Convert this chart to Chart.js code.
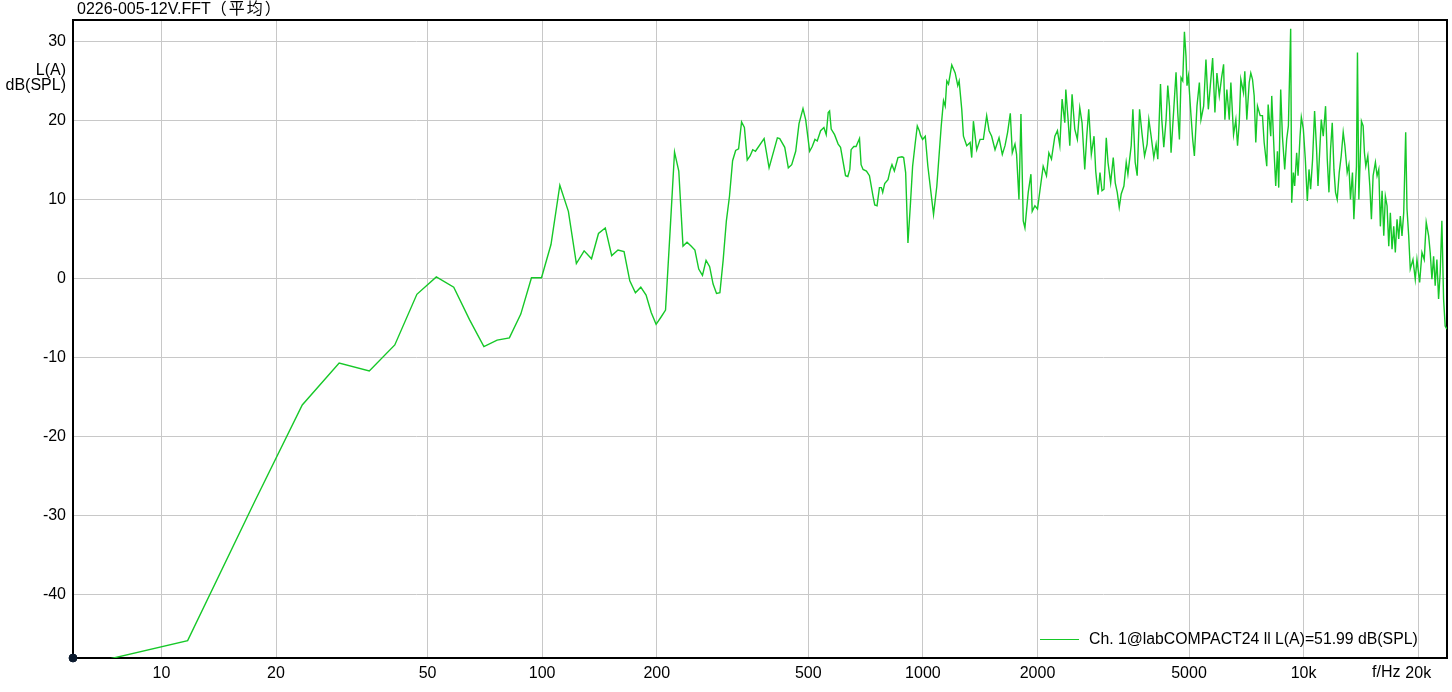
<!DOCTYPE html>
<html><head><meta charset="utf-8">
<script src="https://cdn.jsdelivr.net/npm/chart.js@4.4.1/dist/chart.umd.min.js"></script>
<style>
html,body{margin:0;padding:0;background:#fff;}
#wrap{position:relative;width:1452px;height:692px;font-family:"Liberation Sans",Arial,sans-serif;color:#000;overflow:hidden;}
canvas{position:absolute;left:0;top:0;}
.t{position:absolute;font-size:16px;line-height:18px;white-space:nowrap;}
</style></head><body>
<div id="wrap">
<canvas id="c" width="1452" height="692"></canvas>
<div class="t" style="left:77px;top:-2px;">0226-005-12V.FFT<span style="font-family:'Noto Sans CJK SC';font-size:16px;letter-spacing:2px;">（平均）</span></div>
<div class="t" style="right:1386px;top:62px;line-height:15px;text-align:right;">L(A)<br>dB(SPL)</div>
<div class="t" style="left:1372px;top:663px;">f/Hz</div>
<div class="t" style="left:1040px;top:630px;font-size:15.8px;"><span style="display:inline-block;width:39px;height:1px;background:rgb(22,200,40);vertical-align:middle;margin-right:10px;"></span>Ch. 1@labCOMPACT24 ll L(A)=51.99 dB(SPL)</div>
</div>
<script>
const freqHz = [
 5.859,11.72,17.58,23.44,29.30,35.16,41.02,46.88,52.73,58.59,
 64.45,70.31,76.17,82.03,87.89,93.75,99.61,105.5,111.3,117.2,
 123.0,128.9,134.8,140.6,146.5,152.3,158.2,164.1,169.9,175.8,
 181.6,187.5,193.4,199.2,205.1,210.9,216.8,222.7,228.5,234.4,
 240.2,246.1,251.9,257.8,263.7,269.5,275.4,281.2,287.1,293.0,
 298.8,304.7,310.5,316.4,322.3,328.1,334.0,339.8,345.7,351.6,
 357.4,363.3,382.8,394.5,414.8,420.8,433.7,443.2,452.4,463.4,
 472.8,484.3,492.2,504.2,512.2,520.6,527.9,538.8,549.6,557.3,
 564.1,568.8,574.4,586.2,599.1,607.8,626.4,635.2,642.9,647.9,
 658.6,667.7,681.6,688.2,696.5,710.9,723.9,739.8,747.4,757.8,
 768.9,778.2,784.3,793.8,809.8,821.6,829.6,841.6,860.1,881.1,
 890.2,901.0,913.6,926.9,939.8,955.2,966.8,978.5,986.2,998.2,
 1014.6,1030.6,1066.6,1088.1,1117.3,1132.9,1144.6,1155.7,1167.6,1191.0,
 1215.7,1234.9,1245.3,1265.0,1278.0,1303.7,1330.7,1343.7,1357.4,1384.7,
 1413.4,1441.8,1470.8,1492.2,1515.7,1547.1,1584.9,1616.7,1643.3,1669.3,
 1696.6,1717.2,1745.4,1762.2,1788.0,1809.6,1834.9,1853.8,1891.0,1922.1,
 1937.1,1969.0,2000,2029.3,2070,2111.6,2142.4,2176.3,2221.4,2256.3,
 2289.2,2321.2,2359.2,2373.6,2406.6,2431.5,2465.3,2505.8,2545.4,2582.6,
 2618.5,2661.5,2693.9,2726.4,2769.6,2815.1,2844,2883.8,2918.6,2954.1,
 2989.8,3031.7,3062.8,3113.1,3162.4,3200.6,3239.5,3278.9,3318.5,3373.1,
 3420.3,3455.4,3524.9,3560.9,3610.8,3654.7,3707.7,3759.6,3821.3,3881.4,
 3921.6,3976.1,4041.4,4098,4140,4208.1,4241.1,4292.6,4352.7,4397.4,
 4442.9,4485.7,4559.4,4622.8,4670.6,4718.5,4764.5,4813.4,4863.2,4910.1,
 4939.7,4981.8,5060.6,5112.5,5165.4,5246.7,5323.3,5374.7,5463,5539.5,
 5619.9,5688.3,5767.9,5848.1,5919.3,6005.2,6089.2,6163.3,6211.6,6286.6,
 6378.4,6440.5,6545.7,6637.3,6705.4,6774.8,6840.2,6952.6,7007.1,7092.4,
 7196,7265.4,7340.6,7415.9,7488.2,7565,7689.3,7796.2,7876.9,8001.6,
 8069.2,8196.9,8246.2,8366.7,8447.4,8534.9,8601.7,8705.6,8795.7,8918.8,
 9026.5,9120,9246.7,9303.3,9398.7,9472.3,9587.6,9668.5,9786.1,9862.8,
 9982.8,10103,10226,10331,10432,10558,10686,10815,10908,11039,
 11127,11261,11419,11537,11656,11768,11890,12012,12129,12253,
 12402,12552,12705,12835,13015,13148,13276,13437,13551,13682,
 13764,13849,13965,14050,14186,14332,14446,14567,14743,14923,
 15067,15223,15436,15594,15755,15907,16072,16237,16395,16563,
 16735,16896,17069,17246,17412,17593,17773,17946,18130,18318,
 18539,18686,18878,19060,19373,19644,19846,20172,20455,20739,
 20991,21298,21503,21724,21949,22160,22390,22619,22840,23074,
 23313,23538,23782
];
const levelDb = [
 -49.2,-45.8,-28.2,-16.0,-10.7,-11.7,-8.4,-2.0,0.2,-1.1,
 -5.2,-8.6,-7.8,-7.5,-4.5,0.1,0.1,4.3,11.8,8.5,
 1.9,3.5,2.5,5.7,6.4,2.9,3.6,3.4,-0.3,-1.8,
 -1.1,-2.1,-4.3,-5.8,-4.9,-4.0,6.0,16.0,13.6,4.1,
 4.6,4.1,3.6,1.2,0.4,2.3,1.5,-0.7,-1.9,-1.8,
 2.3,7.3,10.4,14.9,16.2,16.4,19.8,19.1,15.0,15.5,
 16.3,16.1,17.7,14.0,17.8,17.7,16.6,14.0,14.4,16.1,
 19.6,21.5,20.1,16.1,16.7,17.6,17.4,18.7,19.1,18.2,
 21.0,21.2,18.9,18.2,17.0,16.6,13.0,12.9,13.8,16.3,
 16.7,16.7,17.7,14.4,13.8,13.6,13.0,10.4,9.3,9.2,
 11.5,11.5,10.9,12.0,12.5,13.8,14.4,13.6,15.3,15.4,
 15.3,13.4,4.5,9.2,14.2,17.2,19.3,18.7,18.1,17.6,
 18.0,14.2,8.1,11.7,19.3,22.5,21.8,25.0,24.6,27.0,
 26.0,24.4,25.0,21.4,18.0,16.8,17.2,15.3,19.9,16.3,
 17.6,17.6,20.6,18.7,18.0,16.3,17.8,15.7,16.8,18.5,
 20.9,15.9,17.0,15.7,10.0,20.8,7.3,6.4,10.9,13.2,
 8.5,9.2,8.8,11.1,14.2,13.0,15.9,15.1,18.0,18.7,
 16.8,22.7,19.7,23.9,20.1,16.8,23.3,18.9,17.6,21.6,
 19.7,13.8,18.0,21.4,15.7,18.0,13.6,10.6,13.4,11.1,
 11.3,17.8,14.7,12.1,15.3,12.1,10.9,9.0,10.7,11.7,
 14.7,13.2,16.8,21.4,14.7,13.0,21.4,18.5,15.5,17.0,
 20.1,18.0,15.3,17.0,15.1,24.6,20.1,16.6,20.1,24.4,
 21.8,15.9,21.4,26.1,21.0,17.6,25.4,25.0,31.2,28.1,
 24.4,25.6,20.6,17.6,15.5,21.8,24.8,20.1,21.8,27.7,
 21.4,24.4,27.9,21.0,26.0,23.1,25.4,27.1,20.1,23.9,
 20.1,24.8,18.2,20.1,16.8,19.7,25.2,23.5,26.2,20.1,
 24.8,26.0,25.2,23.1,17.2,21.8,20.6,20.6,17.2,14.2,
 22.0,18.0,23.1,15.9,11.7,16.1,11.5,23.9,18.0,13.8,
 17.6,19.3,31.6,9.6,13.4,11.7,15.9,13.0,18.0,20.4,
 18.9,15.1,9.8,13.8,11.3,15.1,21.2,16.3,11.7,16.8,
 20.1,18.0,21.8,15.1,10.9,16.3,19.7,13.8,10.9,10.0,
 13.4,15.5,18.5,16.8,13.4,14.4,10.0,13.4,7.5,11.7,
 14.2,28.6,10.0,13.8,19.9,19.3,15.9,14.2,15.5,11.7,
 7.5,13.0,14.7,13.0,13.8,6.6,11.1,5.4,10.4,9.2,
 4.1,8.3,3.7,6.6,3.3,7.5,5.0,7.9,5.4,8.3,
 18.5,8.8,5.4,1.2,2.4,-0.1,2.4,-0.5,3.3,2.4,
 7.1,5.4,3.3,-0.1,2.8,-0.9,2.4,-2.6,0.7,7.3,
 -2.6,-6.0,-6.4
];
const xTickValues = [10,20,50,100,200,500,1000,2000,5000,10000,20000];
const xTickLabels = ['10','20','50','100','200','500','1000','2000','5000','10k','20k'];
const yTickValues = [30,20,10,0,-10,-20,-30,-40];
const markerFreq = [5.859];
const markerLevel = [-48];

const FONT = {family:'"Liberation Sans", Arial, sans-serif', size:16};
const framePlugin = {
  id:'frame',
  beforeDatasetsDraw(chart){
    const a = chart.chartArea, c = chart.ctx;
    c.save(); c.strokeStyle = '#000'; c.lineWidth = 2;
    c.strokeRect(a.left, a.top, a.right - a.left, a.bottom - a.top);
    c.restore();
  }
};

new Chart(document.getElementById('c'), {
  type: 'line',
  data: {
    datasets: [
      {
        label: 'Ch. 1@labCOMPACT24 ll L(A)=51.99 dB(SPL)',
        data: freqHz.map((f, i) => ({x: f, y: levelDb[i]})),
        borderColor: 'rgb(22,200,40)',
        borderWidth: 1.4,
        pointRadius: 0,
        tension: 0,
        fill: false
      },
      {
        type: 'scatter',
        label: 'origin',
        data: markerFreq.map((f, i) => ({x: f, y: markerLevel[i]})),
        pointRadius: 4,
        pointBackgroundColor: '#0b1a2e',
        pointBorderColor: '#0b1a2e',
        clip: false
      }
    ]
  },
  options: {
    responsive: false,
    animation: false,
    devicePixelRatio: 1,
    layout: {padding: {top: 20, right: 2, left: 0, bottom: 0}},
    plugins: {legend: {display: false}, tooltip: {enabled: false}, title: {display: false}},
    scales: {
      x: {
        type: 'logarithmic', min: 5.859, max: 23800,
        afterFit(s){ s.height = 34; },
        afterBuildTicks(s){ s.ticks = xTickValues.map(v => ({value: v})); },
        ticks: {autoSkip: false, maxRotation: 0, padding: 6, color: '#000', font: FONT,
                callback: (v, i) => xTickLabels[i]},
        grid: {color: '#c8c8c8', lineWidth: 1, drawTicks: false},
        border: {display: false}
      },
      y: {
        type: 'linear', min: -48, max: 32.7,
        afterFit(s){ s.width = 73; },
        afterBuildTicks(s){ s.ticks = yTickValues.map(v => ({value: v})); },
        ticks: {padding: 7, color: '#000', font: FONT},
        grid: {color: '#c8c8c8', lineWidth: 1, drawTicks: false},
        border: {display: false}
      }
    }
  },
  plugins: [framePlugin]
});
</script>
</body></html>
